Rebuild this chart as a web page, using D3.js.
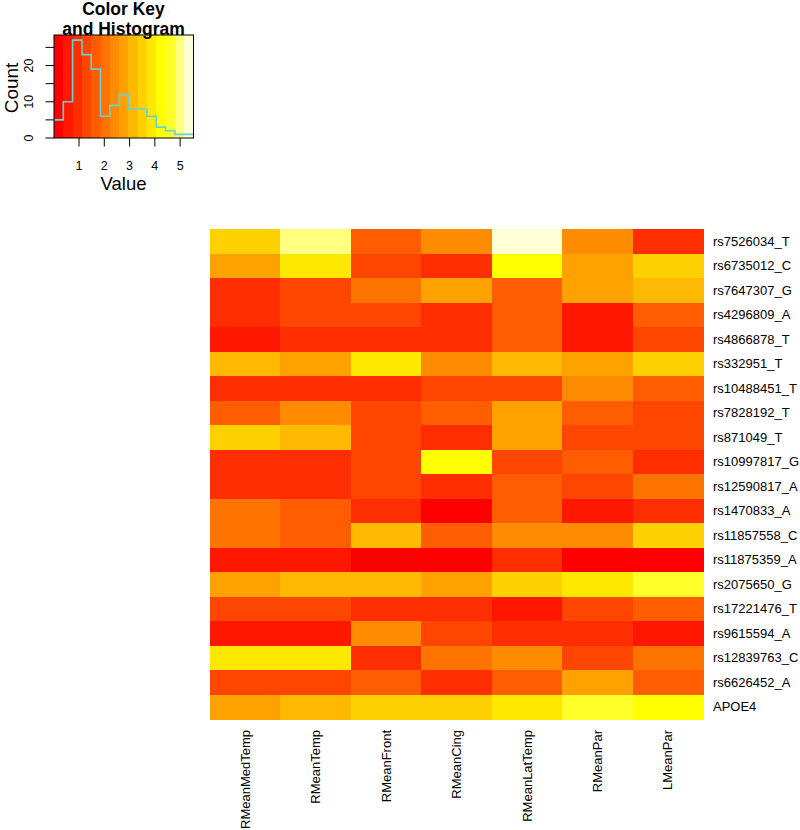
<!DOCTYPE html>
<html>
<head>
<meta charset="utf-8">
<script src="https://cdn.jsdelivr.net/npm/d3@7"></script>
<style>
  body { margin: 0; background: #fff; }
  text { font-family: "Liberation Sans", Arial, sans-serif; fill: #000; }
</style>
</head>
<body>
<div id="chart"></div>
<script>
// Column (region) names and row (SNP) names
const columns = ['RMeanMedTemp', 'RMeanTemp', 'RMeanFront', 'RMeanCing', 'RMeanLatTemp', 'RMeanPar', 'LMeanPar'];
const rows = ['rs7526034_T', 'rs6735012_C', 'rs7647307_G', 'rs4296809_A', 'rs4866878_T',
  'rs332951_T', 'rs10488451_T', 'rs7828192_T', 'rs871049_T', 'rs10997817_G',
  'rs12590817_A', 'rs1470833_A', 'rs11857558_C', 'rs11875359_A', 'rs2075650_G',
  'rs17221476_T', 'rs9615594_A', 'rs12839763_C', 'rs6626452_A', 'APOE4'];

// Cell values, one array per row, in column order
const values = [
  [3.51, 4.98, 1.67, 2.40, 5.53, 2.40, 0.93],
  [2.77, 3.88, 1.30, 0.93, 4.25, 2.77, 3.51],
  [0.93, 1.30, 2.03, 2.77, 1.67, 2.77, 3.14],
  [0.93, 1.30, 1.30, 0.93, 1.67, 0.56, 1.67],
  [0.56, 0.93, 0.93, 0.93, 1.67, 0.56, 1.30],
  [3.14, 2.77, 3.88, 2.40, 3.14, 2.77, 3.51],
  [0.93, 0.93, 0.93, 1.30, 1.30, 2.40, 1.67],
  [1.67, 2.40, 1.30, 1.67, 2.77, 1.67, 1.30],
  [3.51, 3.14, 1.30, 0.93, 2.77, 1.30, 1.30],
  [0.93, 0.93, 1.30, 4.25, 1.30, 1.67, 0.93],
  [0.93, 0.93, 1.30, 0.93, 1.67, 1.30, 2.03],
  [2.03, 1.67, 0.93, 0.19, 1.67, 0.56, 0.93],
  [2.03, 1.67, 3.14, 1.67, 2.40, 2.40, 3.51],
  [0.56, 0.56, 0.19, 0.01, 0.93, 0.19, 0.19],
  [2.77, 3.14, 3.14, 2.77, 3.51, 3.88, 4.61],
  [1.30, 1.30, 0.93, 0.93, 0.56, 1.30, 1.67],
  [0.56, 0.56, 2.40, 1.30, 0.93, 0.93, 0.56],
  [3.88, 3.80, 0.93, 2.03, 2.40, 1.30, 2.03],
  [1.30, 1.30, 1.67, 0.93, 1.67, 2.77, 1.67],
  [2.77, 3.14, 3.51, 3.51, 3.88, 4.61, 4.25]
];

const keyTicks = [1, 2, 3, 4, 5];
const countTicks = [0, 5, 10, 15, 20, 25];
const countLabels = [0, 10, 20];
const nColors = 15;

// R's heat.colors(n): reds->yellows, then a few desaturated yellows
function heatColors(n) {
  const j = Math.floor(n / 4), i = n - j;
  const out = [];
  for (let k = 0; k < i; k++) out.push(d3.hsl(k / (i - 1) * 60, 1, 0.5).formatHex());
  for (let k = 0; k < j; k++) {
    const s = (1 - 1 / (2 * j)) - k * ((1 - 1 / j) / (j - 1));
    out.push(d3.rgb(255, 255, Math.round(255 * (1 - s))).formatHex());
  }
  return out;
}
const colors = heatColors(nColors);

const width = 800, height = 830;
const svg = d3.select('#chart').append('svg')
  .attr('width', width)
  .attr('height', height);

const cells = [];
rows.forEach((r, i) => columns.forEach((c, j) => cells.push({row: r, col: c, value: values[i][j]})));

const extent = d3.extent(cells, d => d.value);
const breaks = d3.range(nColors + 1).map(k => extent[0] + k * (extent[1] - extent[0]) / nColors);
const color = d3.scaleQuantize().domain(extent).range(colors);

// ---- heatmap ----
const x = d3.scaleBand().domain(columns).range([210, 703]);
const y = d3.scaleBand().domain(rows).range([229, 719]);

svg.append('g')
  .attr('shape-rendering', 'crispEdges')
  .selectAll('rect')
  .data(cells)
  .enter()
  .append('rect')
  .attr('x', d => x(d.col))
  .attr('y', d => y(d.row))
  .attr('width', x.bandwidth() + 0.5)
  .attr('height', y.bandwidth() + 0.5)
  .attr('fill', d => color(d.value));

svg.append('g')
  .selectAll('text')
  .data(rows)
  .enter()
  .append('text')
  .attr('x', 713)
  .attr('y', d => y(d) + y.bandwidth() / 2)
  .attr('dy', '0.36em')
  .style('font-size', '13px')
  .text(d => d);

svg.append('g')
  .selectAll('text')
  .data(columns)
  .enter()
  .append('text')
  .attr('transform', d => `translate(${x(d) + x.bandwidth() / 2},730) rotate(-90)`)
  .attr('text-anchor', 'end')
  .attr('dy', '0.36em')
  .style('font-size', '13px')
  .text(d => d);

// ---- colour key + histogram ----
const kx = d3.scaleLinear().domain(extent).range([54, 193.5]);
const bins = d3.bin().domain(extent).thresholds(breaks.slice(1, -1))(cells.map(d => d.value));
const counts = bins.map(b => b.length);
const ky = d3.scaleLinear().domain([0, d3.max(counts) / 0.95]).range([138, 35]);

const key = svg.append('g');
key.append('g')
  .attr('shape-rendering', 'crispEdges')
  .selectAll('rect')
  .data(d3.range(nColors))
  .enter()
  .append('rect')
  .attr('x', k => kx(breaks[k]))
  .attr('y', 35)
  .attr('width', k => kx(breaks[k + 1]) - kx(breaks[k]) + 0.5)
  .attr('height', 103)
  .attr('fill', k => colors[k]);

// step line of the histogram, last count repeated like R's type = "s"
const hx = breaks, hy = counts.concat(counts[counts.length - 1]);
key.append('path')
  .datum(hx.map((v, i) => [v, hy[i]]))
  .attr('fill', 'none')
  .attr('stroke', '#66d2d2')
  .attr('stroke-width', 1.6)
  .attr('d', d3.line().x(d => kx(d[0])).y(d => ky(d[1])).curve(d3.curveStepAfter));

key.append('rect')
  .attr('x', 54).attr('y', 35).attr('width', 139.5).attr('height', 103)
  .attr('fill', 'none').attr('stroke', '#000').attr('stroke-width', 1);

key.selectAll('.xt')
  .data(keyTicks)
  .enter()
  .append('line')
  .attr('x1', d => kx(d)).attr('x2', d => kx(d))
  .attr('y1', 138).attr('y2', 146.5)
  .attr('stroke', '#000');
key.selectAll('.xl')
  .data(keyTicks)
  .enter()
  .append('text')
  .attr('x', d => kx(d))
  .attr('y', 169.5)
  .attr('text-anchor', 'middle')
  .style('font-size', '12.5px')
  .text(d => d);

key.selectAll('.yt')
  .data(countTicks)
  .enter()
  .append('line')
  .attr('x1', 45.5).attr('x2', 54)
  .attr('y1', d => ky(d)).attr('y2', d => ky(d))
  .attr('stroke', '#000');
key.selectAll('.yl')
  .data(countLabels)
  .enter()
  .append('text')
  .attr('transform', d => `translate(32.5,${ky(d)}) rotate(-90)`)
  .attr('text-anchor', 'middle')
  .style('font-size', '12.5px')
  .text(d => d);

key.append('text')
  .attr('transform', 'translate(18,88) rotate(-90)')
  .attr('text-anchor', 'middle')
  .style('font-size', '19px')
  .text('Count');
key.append('text')
  .attr('x', 123.5).attr('y', 190)
  .attr('text-anchor', 'middle')
  .style('font-size', '18.5px')
  .text('Value');

key.append('text')
  .attr('x', 123.5).attr('y', 14.5)
  .attr('text-anchor', 'middle')
  .style('font-size', '17.5px')
  .style('font-weight', 'bold')
  .text('Color Key');
key.append('text')
  .attr('x', 123.5).attr('y', 34.5)
  .attr('text-anchor', 'middle')
  .style('font-size', '17.5px')
  .style('font-weight', 'bold')
  .text('and Histogram');
</script>
</body>
</html>
